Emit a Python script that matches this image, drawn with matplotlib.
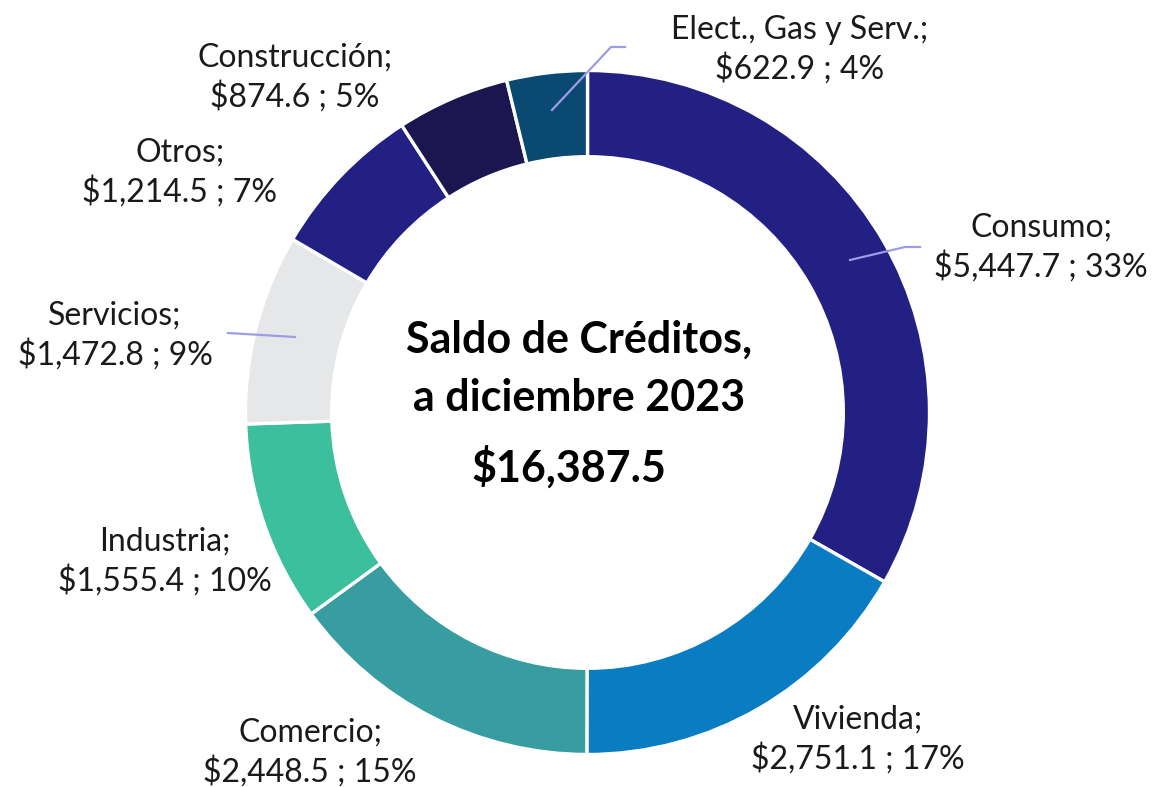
import matplotlib
matplotlib.use("Agg")
import matplotlib.pyplot as plt

categories = ["Consumo", "Vivienda", "Comercio", "Industria", "Servicios",
              "Otros", "Construcción", "Elect., Gas y Serv."]
values = [5447.7, 2751.1, 2448.5, 1555.4, 1472.8, 1214.5, 874.6, 622.9]
percent_labels = ["33%", "17%", "15%", "10%", "9%", "7%", "5%", "4%"]
total_label = "$16,387.5"
colors = ["#232084", "#0a7dc2", "#379da0", "#3bbf9d", "#e6e7e8",
          "#232084", "#1b1650", "#0a4a72"]

W, H = 1159, 787
fig = plt.figure(figsize=(W / 100, H / 100), dpi=100)
ax = fig.add_axes([0, 0, 1, 1])
ax.set_xlim(0, W)
ax.set_ylim(0, H)
ax.set_aspect("equal")
ax.axis("off")

def Y(py):
    return H - py

cx, cy, R = 587.5, Y(412.5), 342
ax.pie(values, colors=colors, startangle=90, counterclock=False,
       center=(cx, cy), radius=R, frame=True,
       wedgeprops=dict(width=R * 0.252, edgecolor="white", linewidth=2.4))
ax.set_xlim(0, W)
ax.set_ylim(0, H)
ax.axis("off")

# label positions (pixel) - center x, first line y
label_pos = [(1041, 228), (858, 720), (310, 733), (165, 542),
             (115, 316), (180, 153), (295, 58), (800, 30)]
lead_col = "#9d9be6"
fs = 23
for cat, v, p, (lx, ly) in zip(categories, values, percent_labels, label_pos):
    ax.text(lx, Y(ly), f"{cat};", ha="center", va="center", fontsize=fs,
            family="Lato", color="#1a1a1a")
    ax.text(lx, Y(ly + 39), f"${v:,.1f} ; {p}", ha="center", va="center",
            fontsize=fs, family="Lato", color="#1a1a1a")

# leader lines
ax.plot([552, 611, 625], [Y(110), Y(47), Y(47)], color=lead_col, lw=1.6)
ax.plot([850, 905, 920], [Y(260), Y(247), Y(247)], color=lead_col, lw=1.6)
ax.plot([228, 295], [Y(333), Y(337)], color=lead_col, lw=1.6)

# center text
ax.text(579, Y(340), "Saldo de Créditos,", ha="center", va="center",
        fontsize=31, fontweight="bold", family="Lato", color="black")
ax.text(579, Y(398), "a diciembre 2023", ha="center", va="center",
        fontsize=31, fontweight="bold", family="Lato", color="black")
ax.text(569, Y(467), total_label, ha="center", va="center",
        fontsize=31, fontweight="bold", family="Lato", color="black")

fig.savefig("out.png", dpi=100)
